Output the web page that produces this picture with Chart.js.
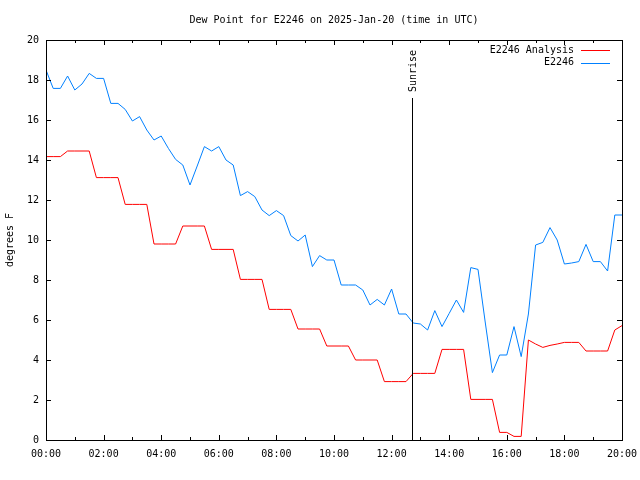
<!DOCTYPE html>
<html><head><meta charset="utf-8">
<script src="https://cdn.jsdelivr.net/npm/chart.js@4/dist/chart.umd.min.js"></script>
<style>html,body{margin:0;padding:0;background:#fff}#wrap{width:640px;height:480px}</style>
</head><body><div id="wrap"><canvas id="c" width="640" height="480"></canvas></div>
<script>
const times = ["00:00","00:15","00:30","00:45","01:00","01:15","01:30","01:45",
"02:00","02:15","02:30","02:45","03:00","03:15","03:30","03:45",
"04:00","04:15","04:30","04:45","05:00","05:15","05:30","05:45",
"06:00","06:15","06:30","06:45","07:00","07:15","07:30","07:45",
"08:00","08:15","08:30","08:45","09:00","09:15","09:30","09:45",
"10:00","10:15","10:30","10:45","11:00","11:15","11:30","11:45",
"12:00","12:15","12:30","12:45","13:00","13:15","13:30","13:45",
"14:00","14:15","14:30","14:45","15:00","15:15","15:30","15:45",
"16:00","16:15","16:30","16:45","17:00","17:15","17:30","17:45",
"18:00","18:15","18:30","18:45","19:00","19:15","19:30","19:45","20:00"];

const analysis = [14.17,14.17,14.17,14.45,14.45,14.45,14.45,13.12,
13.12,13.12,13.12,11.78,11.78,11.78,11.78,9.8,
9.8,9.8,9.8,10.7,10.7,10.7,10.7,9.53,
9.53,9.53,9.53,8.03,8.03,8.03,8.03,6.53,
6.53,6.53,6.53,5.55,5.55,5.55,5.55,4.7,
4.7,4.7,4.7,4.0,4.0,4.0,4.0,2.92,
2.92,2.92,2.92,3.33,3.33,3.33,3.33,4.53,
4.53,4.53,4.53,2.03,2.03,2.03,2.03,0.38,
0.38,0.18,0.18,5.0,4.8,4.63,4.73,4.8,
4.88,4.88,4.88,4.45,4.45,4.45,4.45,5.5,5.72];

const observed = [18.5,17.58,17.58,18.2,17.5,17.8,18.33,18.08,
18.08,16.83,16.83,16.53,15.95,16.17,15.5,15.0,
15.2,14.58,14.03,13.75,12.75,13.7,14.67,14.45,
14.67,14.0,13.75,12.22,12.42,12.17,11.5,11.22,
11.47,11.22,10.22,9.95,10.25,8.67,9.22,9.0,
9.0,7.75,7.75,7.75,7.5,6.75,7.03,6.75,
7.55,6.3,6.3,5.85,5.8,5.5,6.47,5.67,
6.33,7.0,6.38,8.62,8.53,5.9,3.37,4.25,
4.25,5.67,4.17,6.3,9.75,9.88,10.62,10.0,
8.8,8.85,8.92,9.78,8.92,8.92,8.45,11.25,11.25];

const xTickLabels = ["00:00","02:00","04:00","06:00","08:00","10:00","12:00","14:00","16:00","18:00","20:00"];
const seriesNames = ["E2246 Analysis","E2246"];
const seriesColors = ["#ff0000","#0080ff"];
const sunriseTime = "12:42";
const sunriseTop = 17.1;
const titleText = "Dew Point for E2246 on 2025-Jan-20 (time in UTC)";
const yAxisTitle = "degrees F";

const FONT = "DejaVu Sans Mono";
function toHours(t){ const p = t.split(':').map(Number); return p[0] + p[1]/60; }
const xs = times.map(toHours);

const overlay = {
  id: 'overlay',
  afterDraw(chart){
    const ctx = chart.ctx, a = chart.chartArea;
    const sx = chart.scales.x, sy = chart.scales.y;
    ctx.save();
    ctx.strokeStyle = '#000'; ctx.lineWidth = 1;
    ctx.beginPath();
    for (let h = 0; h <= 20; h++){
      const px = Math.round(sx.getPixelForValue(h)) + 0.5;
      const len = (h % 2 === 0) ? 5 : 3;
      ctx.moveTo(px, a.bottom); ctx.lineTo(px, a.bottom - len);
      ctx.moveTo(px, a.top); ctx.lineTo(px, a.top + len);
    }
    for (let v = 0; v <= 20; v += 2){
      const py = Math.round(sy.getPixelForValue(v)) + 0.5;
      ctx.moveTo(a.left, py); ctx.lineTo(a.left + 5, py);
      ctx.moveTo(a.right, py); ctx.lineTo(a.right - 5, py);
    }
    ctx.stroke();
    ctx.strokeRect(Math.round(a.left)+0.5, Math.round(a.top)+0.5, Math.round(a.right-a.left), Math.round(a.bottom-a.top));
    const sxp = Math.round(sx.getPixelForValue(toHours(sunriseTime))) + 0.5;
    ctx.beginPath();
    ctx.moveTo(sxp, sy.getPixelForValue(sunriseTop));
    ctx.lineTo(sxp, sy.getPixelForValue(0));
    ctx.stroke();
    ctx.fillStyle = '#000';
    ctx.font = '10px "' + FONT + '"';
    ctx.save();
    ctx.translate(sxp + 0.5, sy.getPixelForValue(sunriseTop) - 6);
    ctx.rotate(-Math.PI/2);
    ctx.textAlign = 'left'; ctx.textBaseline = 'middle';
    ctx.fillText('Sunrise', 0, 0);
    ctx.restore();
    ctx.textAlign = 'right'; ctx.textBaseline = 'middle';
    for (let i = 0; i < seriesNames.length; i++){
      const y = a.top + 10 + i * 12.5;
      ctx.fillStyle = '#000';
      ctx.fillText(seriesNames[i], a.right - 48, y);
      ctx.strokeStyle = seriesColors[i];
      ctx.beginPath();
      ctx.moveTo(a.right - 41, Math.round(y) + 0.5);
      ctx.lineTo(a.right - 12, Math.round(y) + 0.5);
      ctx.stroke();
    }
    ctx.restore();
  }
};

new Chart(document.getElementById('c'), {
  type: 'line',
  data: {
    datasets: [
      { label: seriesNames[0], data: xs.map((x,i)=>({x, y: analysis[i]})), borderColor: seriesColors[0], borderWidth: 1, pointRadius: 0, tension: 0, fill: false },
      { label: seriesNames[1], data: xs.map((x,i)=>({x, y: observed[i]})), borderColor: seriesColors[1], borderWidth: 1, pointRadius: 0, tension: 0, fill: false }
    ]
  },
  options: {
    responsive: false,
    animation: false,
    layout: { padding: { left: 0, right: 18, top: 0, bottom: 0 } },
    plugins: {
      legend: { display: false },
      tooltip: { enabled: false },
      title: { display: true, text: titleText, fullSize: false, color: '#000',
               font: { family: FONT, size: 10, weight: 'normal' }, padding: { top: 14, bottom: 14 } }
    },
    scales: {
      x: {
        type: 'linear', min: 0, max: 20,
        grid: { display: false, drawTicks: false },
        border: { display: false },
        ticks: { stepSize: 2, autoSkip: false, maxRotation: 0, padding: 8, color: '#000',
                 font: { family: FONT, size: 10 },
                 callback: (v) => { const i = Math.round(v/2); return (v % 2 === 0 && xTickLabels[i]) ? xTickLabels[i] : ''; } },
        afterFit: (s) => { s.height = 40; s.paddingLeft = 0; s.paddingRight = 0; }
      },
      y: {
        min: 0, max: 20,
        grid: { display: false, drawTicks: false },
        border: { display: false },
        ticks: { stepSize: 2, padding: 7, color: '#000', font: { family: FONT, size: 10 } },
        title: { display: true, text: yAxisTitle, color: '#000', font: { family: FONT, size: 10 }, padding: { top: 4, bottom: 4 } },
        afterFit: (s) => { s.width = 46; s.paddingTop = 0; s.paddingBottom = 0; }
      }
    }
  },
  plugins: [overlay]
});
</script>
</body></html>
